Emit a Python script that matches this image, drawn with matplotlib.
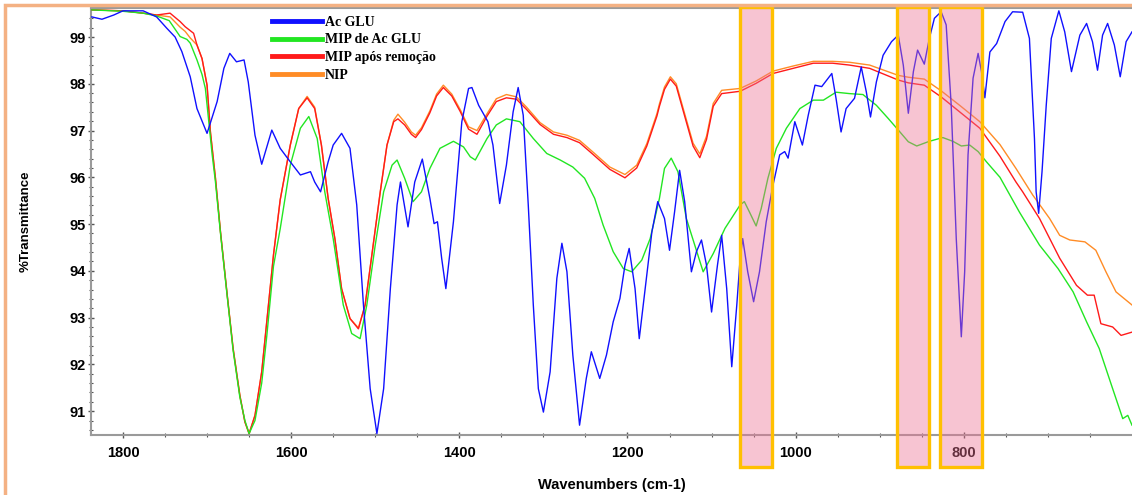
import numpy as np
import matplotlib
matplotlib.use('Agg')
import matplotlib.pyplot as plt
from matplotlib.patches import Rectangle
from matplotlib.lines import Line2D
import matplotlib.transforms as mtransforms

# Ac GLU (blue)
wn_ac = [1837, 1825, 1811, 1800, 1776, 1760, 1748, 1738, 1730, 1720, 1712, 1700, 1688, 1680,
         1673, 1665, 1656, 1651, 1643, 1635, 1623, 1613, 1601, 1589, 1577, 1572, 1565, 1556,
         1550, 1540, 1530, 1522, 1514, 1506, 1498, 1490, 1482, 1474, 1470, 1461, 1453, 1444,
         1435, 1430, 1426, 1421, 1416, 1407, 1397, 1389, 1385, 1377, 1366, 1360, 1352, 1344,
         1336, 1330, 1324, 1318, 1312, 1306, 1300, 1292, 1284, 1278, 1272, 1265, 1257, 1249,
         1243, 1233, 1225, 1217, 1209, 1203, 1198, 1191, 1186, 1179, 1171, 1164, 1156, 1150,
         1144, 1138, 1132, 1124, 1118, 1112, 1106, 1100, 1093, 1088, 1082, 1076, 1070, 1066,
         1063, 1057, 1050, 1043, 1035, 1027, 1019, 1013, 1009, 1001, 992, 985, 977, 969, 957,
         952, 946, 940, 930, 922, 916, 911, 904, 896, 886, 878, 872, 866, 860, 855, 847, 841,
         835, 827, 821, 815, 809, 803, 799, 795, 789, 783, 779, 775, 769, 761, 751, 742, 730,
         722, 716, 714, 711, 707, 702, 696, 687, 680, 672, 662, 654, 647, 641, 635, 629, 621,
         614, 607, 600]
t_ac = [99.43, 99.38, 99.47, 99.56, 99.56, 99.43, 99.19, 99.00, 98.69, 98.15, 97.47, 96.94, 97.62, 98.33,
        98.65, 98.47, 98.51, 98.04, 96.90, 96.28, 97.01, 96.62, 96.33, 96.05, 96.12, 95.90, 95.69, 96.33,
        96.69, 96.94, 96.62, 95.41, 93.27, 91.48, 90.52, 91.48, 93.62, 95.41, 95.90, 94.94, 95.90, 96.39,
        95.55, 95.01, 95.05, 94.27, 93.62, 95.05, 97.19, 97.90, 97.92, 97.54, 97.19, 96.69, 95.44, 96.26,
        97.40, 97.92, 97.33, 95.41, 93.27, 91.48, 90.98, 91.84, 93.84, 94.59, 93.98, 92.20, 90.70, 91.70,
        92.27, 91.70, 92.20, 92.91, 93.41, 94.12, 94.48, 93.62, 92.55, 93.62, 94.83, 95.48, 95.12, 94.44,
        95.26, 96.15, 95.48, 93.98, 94.41, 94.66, 94.12, 93.12, 94.12, 94.76, 93.62, 91.95, 93.27, 94.27,
        94.69, 93.98, 93.34, 93.98, 95.05, 95.83, 96.48, 96.55, 96.41, 97.19, 96.69, 97.33, 97.97, 97.94, 98.22,
        97.69, 96.97, 97.47, 97.69, 98.36, 97.83, 97.29, 98.04, 98.61, 98.90, 99.04, 98.40, 97.37, 98.26, 98.72, 98.42, 98.97,
        99.40, 99.54, 99.26, 97.54, 94.69, 92.59, 93.98, 96.48, 98.12, 98.65, 98.26, 97.70, 98.68, 98.86, 99.33, 99.54, 99.53,
        98.97, 96.83, 95.69, 95.23, 96.12, 97.54, 98.97, 99.56, 99.11, 98.26, 99.04, 99.29, 98.90, 98.29, 99.04, 99.29, 98.83,
        98.15, 98.90, 99.11]

# MIP de Ac GLU (green)
wn_mip = [1837, 1800, 1776, 1760, 1745, 1732, 1724, 1720, 1712, 1706, 1702, 1698, 1694, 1690, 1684,
          1676, 1669, 1661, 1655, 1650, 1643, 1635, 1629, 1621, 1613, 1601, 1589, 1579, 1569, 1560,
          1550, 1538, 1528, 1518, 1510, 1500, 1490, 1480, 1474, 1465, 1455, 1445, 1435, 1423, 1407,
          1395, 1387, 1381, 1367, 1356, 1344, 1328, 1312, 1296, 1280, 1265, 1251, 1239, 1229, 1217,
          1205, 1195, 1183, 1173, 1162, 1156, 1148, 1140, 1130, 1120, 1110, 1098, 1084, 1066, 1061,
          1055, 1047, 1041, 1033, 1023, 1011, 995, 979, 967, 952, 936, 920, 904, 890, 876, 866, 856,
          841, 825, 813, 803, 793, 783, 773, 757, 734, 710, 688, 670, 654, 639, 623, 611, 605, 600]
t_mip = [99.58, 99.55, 99.51, 99.45, 99.35, 99.01, 98.95, 98.87, 98.51, 98.20, 97.90, 97.20, 96.50, 95.90, 94.80,
         93.45, 92.30, 91.30, 90.80, 90.52, 90.80, 91.60, 92.60, 94.10, 94.90, 96.26, 97.05, 97.30, 96.83, 95.69,
         94.69, 93.27, 92.66, 92.55, 93.27, 94.55, 95.69, 96.26, 96.37, 95.98, 95.48, 95.69, 96.19, 96.62, 96.77,
         96.65, 96.44, 96.37, 96.83, 97.12, 97.25, 97.19, 96.83, 96.51, 96.37, 96.22, 95.98, 95.55, 94.98, 94.41,
         94.05, 93.98, 94.23, 94.69, 95.55, 96.19, 96.41, 96.12, 95.12, 94.55, 93.98, 94.37, 94.91, 95.41, 95.48,
         95.26, 94.96, 95.33, 95.98, 96.62, 97.05, 97.47, 97.65, 97.65, 97.82, 97.79, 97.77, 97.54, 97.26, 96.97, 96.76, 96.67,
         96.77, 96.85, 96.77, 96.67, 96.69, 96.55, 96.33, 96.00, 95.26, 94.55, 94.05, 93.55, 92.91, 92.34, 91.48, 90.84, 90.91, 90.70]

# MIP após remoção (red)
wn_rem = [1837, 1800, 1776, 1760, 1744, 1732, 1726, 1716, 1712, 1706, 1700, 1696, 1690, 1684, 1676,
          1669, 1661, 1655, 1650, 1643, 1635, 1629, 1621, 1613, 1601, 1591, 1581, 1572, 1564, 1556,
          1548, 1540, 1530, 1520, 1512, 1504, 1494, 1486, 1478, 1473, 1465, 1457, 1452, 1445, 1435,
          1427, 1419, 1409, 1399, 1389, 1379, 1367, 1356, 1344, 1332, 1320, 1304, 1288, 1272, 1257,
          1241, 1221, 1203, 1189, 1177, 1165, 1162, 1156, 1149, 1142, 1132, 1122, 1114, 1106, 1098,
          1088, 1066, 1047, 1027, 1003, 979, 956, 936, 912, 878, 866, 847, 827, 805, 781, 757, 738,
          730, 710, 686, 666, 653, 645, 637, 623, 613, 600]
t_rem = [99.58, 99.56, 99.51, 99.47, 99.51, 99.33, 99.22, 99.08, 98.83, 98.54, 97.97, 96.97, 95.98, 94.83, 93.48,
         92.34, 91.34, 90.77, 90.52, 90.91, 91.84, 92.91, 94.34, 95.52, 96.69, 97.47, 97.70, 97.47, 96.69, 95.55,
         94.69, 93.62, 92.98, 92.76, 93.27, 94.34, 95.69, 96.69, 97.19, 97.25, 97.12, 96.92, 96.85, 97.02, 97.38,
         97.74, 97.92, 97.74, 97.41, 97.03, 96.92, 97.31, 97.62, 97.70, 97.67, 97.45, 97.13, 96.92, 96.85, 96.74,
         96.49, 96.17, 95.99, 96.20, 96.67, 97.31, 97.52, 97.88, 98.10, 97.95, 97.31, 96.67, 96.42, 96.81, 97.52,
         97.79, 97.84, 98.01, 98.22, 98.33, 98.44, 98.44, 98.40, 98.33, 98.08, 98.02, 97.97, 97.72, 97.40, 97.05, 96.45, 95.90,
         95.69, 95.12, 94.27, 93.69, 93.48, 93.48, 92.87, 92.80, 92.62, 92.69]

# NIP (orange)
wn_nip = [1837, 1800, 1776, 1760, 1744, 1732, 1726, 1720, 1712, 1706, 1700, 1696, 1690, 1684, 1676,
          1669, 1661, 1655, 1650, 1643, 1635, 1629, 1621, 1613, 1601, 1591, 1581, 1572, 1564, 1556,
          1548, 1540, 1530, 1520, 1512, 1504, 1494, 1486, 1478, 1473, 1465, 1457, 1452, 1445, 1435,
          1427, 1419, 1409, 1399, 1389, 1379, 1367, 1356, 1344, 1332, 1320, 1304, 1288, 1272, 1257,
          1241, 1221, 1203, 1189, 1177, 1165, 1162, 1156, 1149, 1142, 1132, 1122, 1114, 1106, 1098,
          1088, 1066, 1047, 1027, 1003, 979, 956, 936, 912, 878, 866, 847, 827, 805, 781, 757, 738,
          718, 698, 686, 674, 656, 643, 631, 619, 600]
t_nip = [99.58, 99.56, 99.51, 99.47, 99.43, 99.21, 99.12, 98.98, 98.83, 98.54, 97.97, 96.97, 95.98, 94.83, 93.48,
         92.34, 91.34, 90.77, 90.52, 90.91, 91.84, 92.91, 94.34, 95.52, 96.69, 97.47, 97.73, 97.50, 96.69, 95.55,
         94.69, 93.62, 92.98, 92.78, 93.27, 94.34, 95.69, 96.69, 97.22, 97.35, 97.18, 96.97, 96.90, 97.06, 97.42,
         97.78, 97.97, 97.78, 97.45, 97.08, 97.00, 97.36, 97.68, 97.77, 97.72, 97.50, 97.17, 96.97, 96.90, 96.79,
         96.54, 96.22, 96.06, 96.26, 96.72, 97.36, 97.57, 97.93, 98.15, 98.00, 97.36, 96.73, 96.50, 96.88, 97.58,
         97.86, 97.90, 98.06, 98.27, 98.38, 98.48, 98.48, 98.46, 98.40, 98.18, 98.14, 98.10, 97.85, 97.54, 97.19, 96.70, 96.19,
         95.62, 95.12, 94.76, 94.66, 94.62, 94.44, 93.98, 93.55, 93.27]

# highlighted bands (cm-1)
band_left = [1066, 880, 828]
band_right = [1028, 842, 778]

labels = ['Ac GLU', 'MIP de Ac GLU', 'MIP após remoção', 'NIP']
colors = ['#1010ff', '#22e622', '#ff1a1a', '#ff8c26']

fig = plt.figure(figsize=(11.32, 4.95), dpi=100)
ax = fig.add_axes([0.0804, 0.1212, 0.9196, 0.8626])

ax.plot(wn_nip, t_nip, color=colors[3], lw=1.0, zorder=2)
ax.plot(wn_rem, t_rem, color=colors[2], lw=1.0, zorder=3)
ax.plot(wn_mip, t_mip, color=colors[1], lw=1.0, zorder=4)
ax.plot(wn_ac, t_ac, color=colors[0], lw=1.0, zorder=5)

ax.set_xlim(1838, 600)
ax.set_ylim(90.49, 99.62)

# pink bands, drawn over the lines and down past the tick labels
trans = mtransforms.blended_transform_factory(ax.transData, ax.transAxes)
for lft, rgt in zip(band_left, band_right):
    ax.add_patch(Rectangle((lft, -0.075), rgt - lft, 1.077, transform=trans,
                           facecolor=(0.93, 0.45, 0.58, 0.42), edgecolor='#ffc000',
                           lw=2.4, clip_on=False, zorder=6))

ax.set_xticks([1800, 1600, 1400, 1200, 1000, 800])
ax.set_xticks(np.arange(650, 1838, 50), minor=True)
ax.set_yticks(np.arange(91, 100, 1))
ax.set_yticks(np.arange(90.6, 99.6, 0.2), minor=True)
for lab in ax.get_xticklabels() + ax.get_yticklabels():
    lab.set_fontfamily('Liberation Sans')
    lab.set_fontweight('bold')
    lab.set_fontsize(10.5)
ax.tick_params(axis='both', which='major', direction='inout', length=4, width=1, color='#555555', pad=6)
ax.tick_params(axis='both', which='minor', direction='inout', length=3, width=0.8, color='#555555')
ax.tick_params(axis='y', pad=2)

ax.spines['right'].set_visible(False)
for side in ['left', 'bottom', 'top']:
    ax.spines[side].set_color('#9a9a9a')
    ax.spines[side].set_linewidth(1.5)

ax.set_xlabel('Wavenumbers (cm-1)', fontfamily='Liberation Sans', fontweight='bold', fontsize=10.5, labelpad=13)
ax.set_ylabel('%Transmittance', fontfamily='Liberation Sans', fontweight='bold', fontsize=9.5, labelpad=27)

handles = [Line2D([], [], color=c, lw=3.5) for c in colors]
leg = ax.legend(handles, labels, loc='upper left', bbox_to_anchor=(0.173, 0.985), frameon=False,
                prop={'family': 'Liberation Serif', 'weight': 'bold', 'size': 10},
                handlelength=3.6, handletextpad=0.15, labelspacing=0.33, borderpad=0.1,
                borderaxespad=0)
leg.set_zorder(10)

# outer frame of the original picture
fig.patches.append(Rectangle((5 / 1132, -0.05), 1.1, 1 - 5 / 495 + 0.05,
                             transform=fig.transFigure, fill=False, edgecolor='#f4b183', lw=2.5))

fig.savefig('out.png', dpi=100)
